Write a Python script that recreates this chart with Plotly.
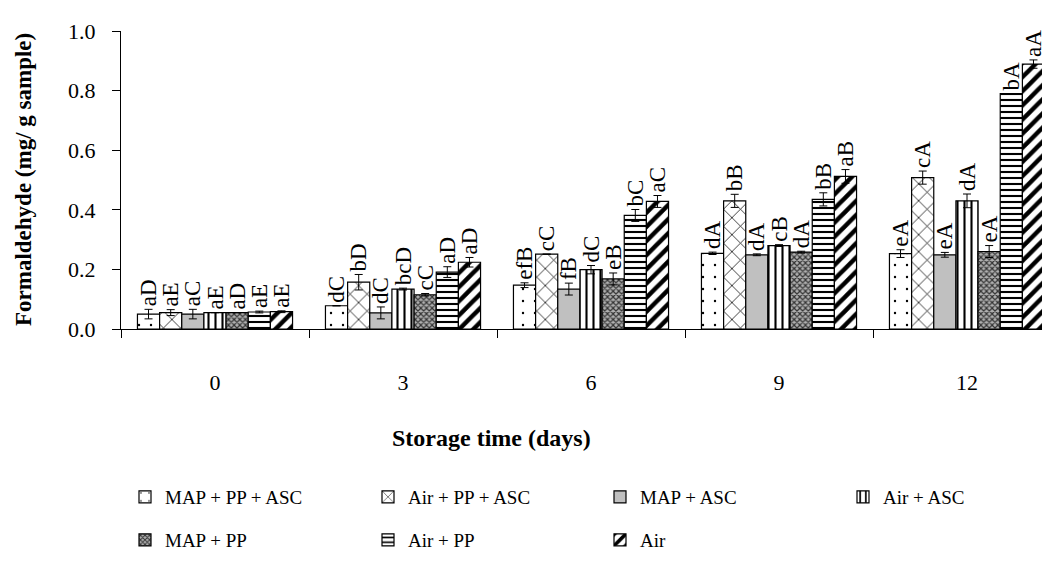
import plotly.graph_objects as go

days = ["0", "3", "6", "9", "12"]
series_names = ["MAP + PP + ASC", "Air + PP + ASC", "MAP + ASC", "Air + ASC",
                "MAP + PP", "Air + PP", "Air"]

map_pp_asc = [0.050, 0.078, 0.147, 0.254, 0.253]
air_pp_asc = [0.055, 0.157, 0.251, 0.430, 0.508]
map_asc = [0.050, 0.054, 0.134, 0.249, 0.249]
air_asc = [0.055, 0.134, 0.199, 0.280, 0.430]
map_pp = [0.055, 0.115, 0.168, 0.258, 0.260]
air_pp = [0.057, 0.191, 0.381, 0.435, 0.790]
air = [0.058, 0.224, 0.428, 0.512, 0.889]

err_map_pp_asc = [0.016, 0.0, 0.008, 0.004, 0.013]
err_air_pp_asc = [0.010, 0.026, 0.0, 0.022, 0.022]
err_map_asc = [0.016, 0.020, 0.020, 0.003, 0.008]
err_air_asc = [0.0, 0.003, 0.014, 0.003, 0.023]
err_map_pp = [0.0, 0.004, 0.020, 0.003, 0.020]
err_air_pp = [0.003, 0.018, 0.020, 0.022, 0.0]
err_air = [0.003, 0.016, 0.020, 0.023, 0.014]

lab_map_pp_asc = ["aD", "dC", "efB", "dA", "eA"]
lab_air_pp_asc = ["aE", "bD", "cC", "bB", "cA"]
lab_map_asc = ["aC", "dC", "fB", "dA", "eA"]
lab_air_asc = ["aE", "bcD", "dC", "cB", "dA"]
lab_map_pp = ["aD", "cC", "eB", "dA", "eA"]
lab_air_pp = ["aE", "aD", "bC", "bB", "bA"]
lab_air = ["aE", "aD", "aC", "aB", "aA"]

values = [map_pp_asc, air_pp_asc, map_asc, air_asc, map_pp, air_pp, air]
errors = [err_map_pp_asc, err_air_pp_asc, err_map_asc, err_air_asc, err_map_pp, err_air_pp, err_air]
labels = [lab_map_pp_asc, lab_air_pp_asc, lab_map_asc, lab_air_asc, lab_map_pp, lab_air_pp, lab_air]

patterns = [
    dict(shape=".", fgcolor="black", bgcolor="white", size=12, solidity=0.03, fillmode="replace"),
    dict(shape="x", fgcolor="black", bgcolor="white", size=12, solidity=0.12, fillmode="replace"),
    dict(shape="", fillmode="replace"),
    dict(shape="|", fgcolor="black", bgcolor="white", size=7, solidity=0.3, fillmode="replace"),
    dict(shape="x", fgcolor="#333333", bgcolor="#b0b0b0", size=4, solidity=0.5, fillmode="replace"),
    dict(shape="-", fgcolor="black", bgcolor="white", size=6, solidity=0.35, fillmode="replace"),
    dict(shape="/", fgcolor="black", bgcolor="white", size=10, solidity=0.45, fillmode="replace"),
]
fills = ["white", "white", "#c0c0c0", "white", "#b0b0b0", "white", "white"]

FONT = "Liberation Serif"

ML = 113
PW = 1050 - ML
PH = 298


def px_x(p):
    return (p - ML) / PW


def px_y(p):
    return (321 - p) / PH


# legend positions (pixel left edge, pixel row center)
leg_pos = [(117, 489), (360, 489), (592, 489), (835, 489),
           (117, 532), (360, 532), (592, 532)]

fig = go.Figure()
for i, name in enumerate(series_names):
    fig.add_trace(go.Bar(
        x=days, y=values[i], name=name, offsetgroup=str(i),
        marker=dict(color=fills[i], pattern=patterns[i], line=dict(color="black", width=1.2)),
        error_y=dict(type="data", array=errors[i], visible=True, color="black", thickness=1, width=4),
        legend="legend" if i == 0 else f"legend{i + 1}",
    ))
# invisible carriers for the letter labels, placed above the error bars
for i, name in enumerate(series_names):
    tops = [v + e for v, e in zip(values[i], errors[i])]
    fig.add_trace(go.Bar(
        x=days, y=tops, offsetgroup=str(i), showlegend=False, hoverinfo="skip",
        marker=dict(color="rgba(0,0,0,0)", line=dict(width=0)),
        text=labels[i], textposition="outside", textangle=-90, constraintext="none",
        textfont=dict(family=FONT, size=23, color="black"), cliponaxis=False,
    ))

legends = {}
for i, (lx, ly) in enumerate(leg_pos):
    key = "legend" if i == 0 else f"legend{i + 1}"
    legends[key] = dict(orientation="h", x=px_x(lx), y=px_y(ly), xanchor="left", yanchor="middle",
                        font=dict(family=FONT, size=19, color="black"), bgcolor="rgba(0,0,0,0)")

fig.update_layout(
    width=1050, height=562,
    margin=dict(l=ML, r=0, t=23, b=241),
    paper_bgcolor="white", plot_bgcolor="white",
    barmode="group", bargap=0.175, bargroupgap=0,
    font=dict(family=FONT, size=22, color="black"),
    xaxis=dict(type="category", range=[-0.5, -0.5 + PW / 188.0], showline=True, linecolor="black",
               linewidth=1, ticks="outside", tickson="boundaries", ticklen=8, tickcolor="black",
               ticklabelstandoff=34, tickfont=dict(size=22), showgrid=False),
    yaxis=dict(range=[0, 1.0], dtick=0.2, tickformat=".1f", showline=True, linecolor="black",
               linewidth=1, ticks="outside", ticklen=8, tickcolor="black", showgrid=False,
               zeroline=False, ticklabelstandoff=12, tickfont=dict(size=22)),
    annotations=[
        dict(text="<b>Storage time (days)</b>", xref="paper", yref="paper", x=px_x(483),
             y=px_y(430), xanchor="center", yanchor="middle", showarrow=False,
             font=dict(size=24)),
        dict(text="<b>Formaldehyde (mg/ g sample)</b>", xref="paper", yref="paper",
             x=px_x(15), y=px_y(172), xanchor="center", yanchor="middle",
             textangle=-90, showarrow=False, font=dict(size=23)),
    ],
    **legends,
)

fig.write_html("out.html")
